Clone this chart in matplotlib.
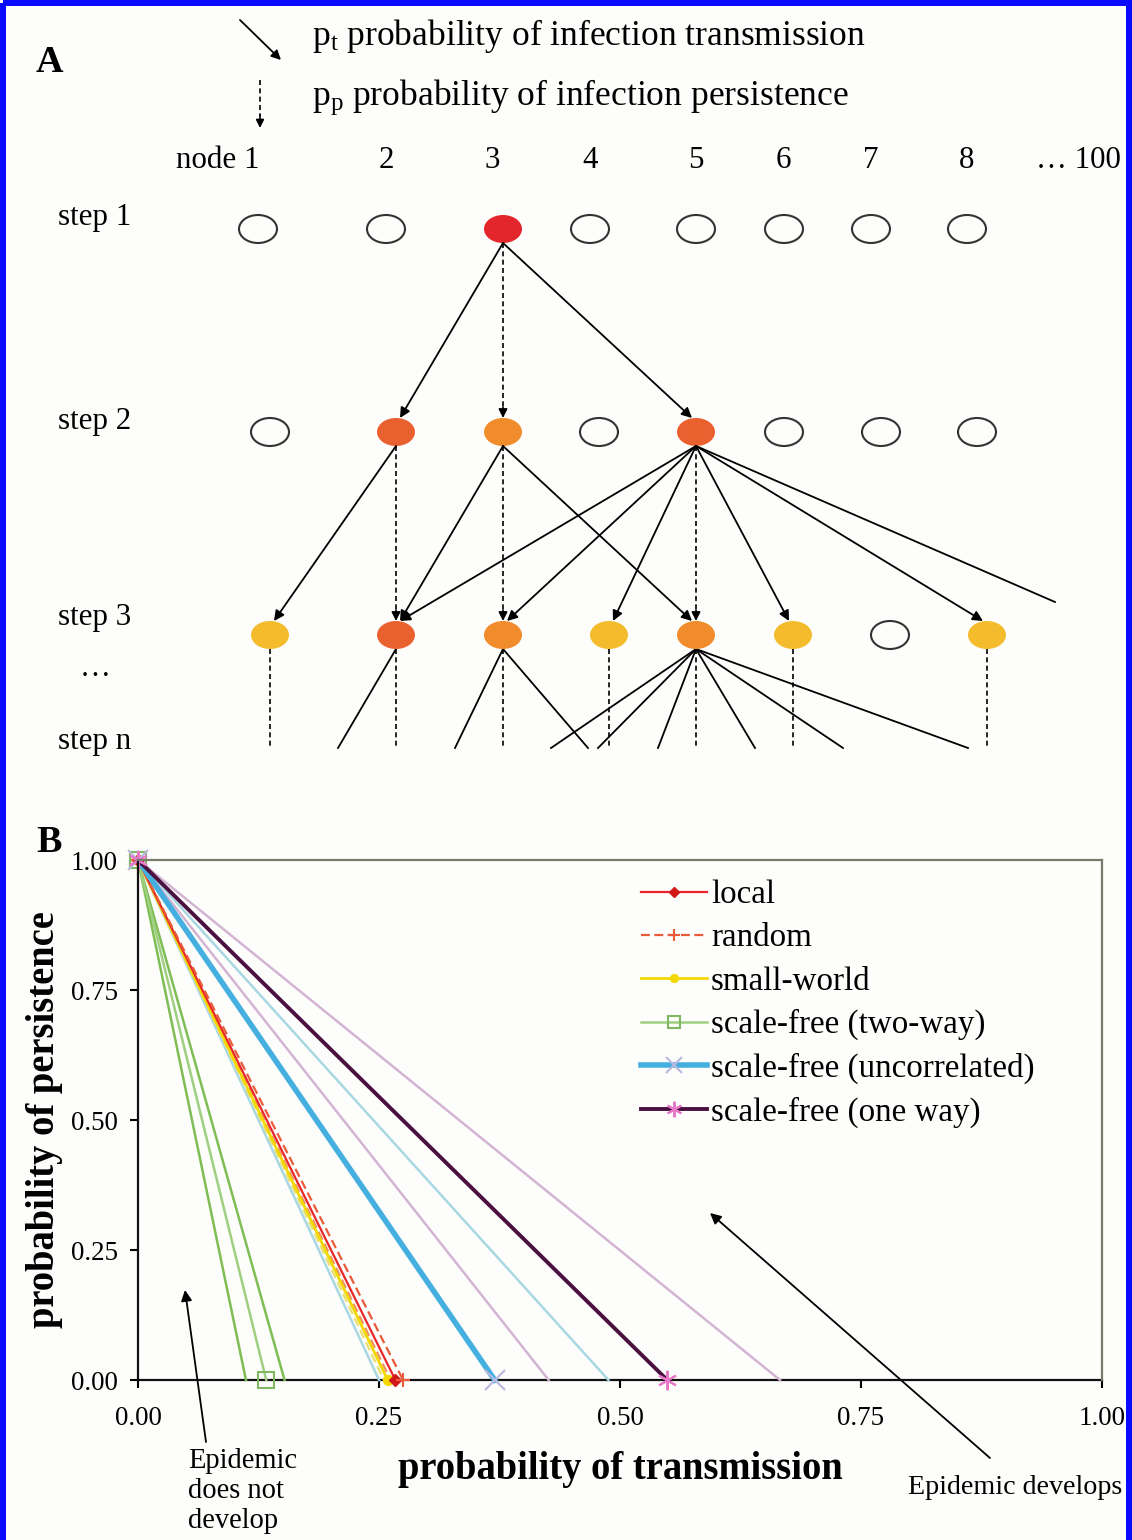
import matplotlib
matplotlib.use('Agg')
import matplotlib.pyplot as plt
from matplotlib.patches import Ellipse, Rectangle

plt.rcParams['font.family'] = ['Liberation Serif', 'DejaVu Serif']
plt.rcParams['mathtext.fontset'] = 'custom'
plt.rcParams['mathtext.rm'] = 'Liberation Serif'
plt.rcParams['mathtext.it'] = 'Liberation Serif:italic'

W, H = 1132, 1540
PT = 0.72  # points per pixel at dpi 100

# ---------------- Panel A data (diagram layout) ----------------
node_labels = ["node 1", "2", "3", "4", "5", "6", "7", "8", "\u2026 100"]
node_label_x = [218, 386, 492, 590, 696, 783, 871, 967, 1078]
step_labels = ["step 1", "step 2", "step 3", "\u2026", "step n"]
step_label_y = [218, 422, 617, 668, 742]
row_y = [229, 432, 635]
row_x = [[258, 386, 503, 590, 696, 784, 871, 967],
         [270, 396, 503, 599, 696, 784, 881, 977],
         [270, 396, 503, 609, 696, 793, 890, 987]]
RED, ORED, ORG, YEL = '#e3262b', '#ea6130', '#f08c2c', '#f4bc2c'
row_col = [[None, None, RED, None, None, None, None, None],
           [None, ORED, ORG, None, ORED, None, None, None],
           [YEL, ORED, ORG, YEL, ORG, YEL, None, YEL]]
# transmissions (from index in row r -> index in row r+1)
trans = [[(2, 1), (2, 4)],
         [(1, 0), (2, 1), (2, 4), (4, 1), (4, 2), (4, 3), (4, 5), (4, 7)]]
persist = [[2], [1, 2, 4]]
loose_end = (4, 1055, 602)
# last step: lines to step n
stepn_y = 748
stepn_trans = [(1, 338), (2, 455), (2, 588), (4, 551), (4, 598), (4, 658),
               (4, 755), (4, 843), (4, 968)]
stepn_persist = [0, 1, 2, 3, 4, 5, 7]

# ---------------- Panel B data ----------------
ticks = [0.0, 0.25, 0.50, 0.75, 1.00]
tick_labels = ["0.00", "0.25", "0.50", "0.75", "1.00"]
# x-intercepts (probability of transmission at persistence 0)
local_main = 0.267
random_main = 0.275
random_extra = [0.262]
smallworld_main = 0.259
smallworld_extra = [0.255]
twoway_main = 0.133
twoway_extra = [0.112, 0.152]
uncorr_main = 0.370
uncorr_extra = [0.250, 0.488]
oneway_main = 0.549
oneway_extra = [0.426, 0.666]

fig = plt.figure(figsize=(W / 100, H / 100), dpi=100, facecolor='#fdfdfb')
ov = fig.add_axes([0, 0, 1, 1])
ov.set_xlim(0, W)
ov.set_ylim(H, 0)
ov.axis('off')

# blue frame
ov.add_patch(Rectangle((3, 3), W - 6, H + 20, fill=False, edgecolor='#0a0aff',
                       lw=6 * PT, clip_on=False))

fsA = 31 * PT
fsKey = 35.5 * PT
ov.text(36, 62, "A", fontsize=38 * PT, fontweight='bold', va='center', ha='left')
ov.text(36, 843, "B", fontsize=38 * PT, fontweight='bold', va='center', ha='left')

# key
ov.annotate('', xy=(281, 60), xytext=(240, 20),
            arrowprops=dict(arrowstyle='-|>', color='k', lw=1.3, mutation_scale=14,
                            shrinkA=0, shrinkB=0))
ov.plot([260, 260], [80, 116], ls=(0, (3, 2)), color='k', lw=1.2)
ov.annotate('', xy=(260, 128), xytext=(260, 115),
            arrowprops=dict(arrowstyle='-|>', color='k', lw=1.2, mutation_scale=12,
                            shrinkA=0, shrinkB=0))
ov.text(312, 45, r"p$_{\mathrm{t}}$ probability of infection transmission",
        fontsize=fsKey, va='baseline', ha='left')
ov.text(312, 105, r"p$_{\mathrm{p}}$ probability of infection persistence",
        fontsize=fsKey, va='baseline', ha='left')

for lab, x in zip(node_labels, node_label_x):
    ov.text(x, 160, lab, fontsize=fsA, va='center', ha='center')
for lab, y in zip(step_labels, step_label_y):
    ov.text(58 if lab != "\u2026" else 80, y, lab, fontsize=fsA, va='center', ha='left')

EW, EH = 38, 28
for r in range(3):
    for x, c in zip(row_x[r], row_col[r]):
        if c is None:
            ov.add_patch(Ellipse((x, row_y[r]), EW, EH, facecolor='none',
                                 edgecolor='#333333', lw=1.5, zorder=3))
        else:
            ov.add_patch(Ellipse((x, row_y[r]), EW, EH, facecolor=c,
                                 edgecolor='none', zorder=3))

def arrow(x0, y0, x1, y1, dashed=False):
    if dashed:
        ov.plot([x0, x1], [y0, y1 - 10], ls=(0, (3, 2)), color='k', lw=1.2)
        ov.annotate('', xy=(x1, y1), xytext=(x1, y1 - 11),
                    arrowprops=dict(arrowstyle='-|>', color='k', lw=1.2,
                                    mutation_scale=13, shrinkA=0, shrinkB=0))
    else:
        ov.annotate('', xy=(x1, y1), xytext=(x0, y0),
                    arrowprops=dict(arrowstyle='-|>', color='k', lw=1.3,
                                    mutation_scale=15, shrinkA=0, shrinkB=0))

for r in range(2):
    for a, b in trans[r]:
        arrow(row_x[r][a], row_y[r] + 14, row_x[r + 1][b] + (4 if b < a else -4 if b > a else 0),
              row_y[r + 1] - 14)
    for a in persist[r]:
        arrow(row_x[r][a], row_y[r] + 14, row_x[r + 1][a], row_y[r + 1] - 14, dashed=True)
a, ex, ey = loose_end
ov.plot([row_x[1][a], ex], [row_y[1] + 14, ey], color='k', lw=1.3)
for a, ex in stepn_trans:
    ov.plot([row_x[2][a], ex], [row_y[2] + 14, stepn_y], color='k', lw=1.3)
for a in stepn_persist:
    x = row_x[2][a]
    ov.plot([x, x], [row_y[2] + 14, stepn_y], ls=(0, (3, 2)), color='k', lw=1.2)

# ---------------- Panel B ----------------
axB = fig.add_axes([138 / W, 1 - 1380 / H, 964 / W, 520 / H])
axB.set_facecolor('none')
axB.set_xlim(0, 1)
axB.set_ylim(0, 1)

def seg(x_int, **kw):
    return axB.plot([0.0, x_int], [1.0, 0.0], clip_on=False, **kw)

# bounds / extra lines
for xi in twoway_extra:
    seg(xi, color='#7fbd55', lw=1.8)
for xi in uncorr_extra:
    seg(xi, color='#a9d8e2', lw=1.8)
for xi in oneway_extra:
    seg(xi, color='#d3b5d3', lw=1.8)
for xi in smallworld_extra:
    seg(xi, color='#e8e070', lw=1.6, ls=(0, (4, 2)))
for xi in random_extra:
    seg(xi, color='#f09060', lw=1.6, ls=(0, (4, 2)))

seg(twoway_main, color='#9fcf80', lw=1.8, marker='s', ms=11, mfc='none',
    mec='#7fb860', mew=1.5, label='scale-free (two-way)')
seg(smallworld_main, color='#f2d800', lw=2, marker='o', ms=7, mec='#f2d800',
    label='small-world')
seg(local_main, color='#e8262a', lw=1.6, marker='D', ms=6, mec='#d01818', mfc='#d01818',
    label='local')
seg(random_main, color='#e85a3a', lw=1.6, ls=(0, (4, 2)), marker='+', ms=10, mew=1.5,
    label='random')
seg(uncorr_main, color='#45b0e0', lw=4, marker='x', ms=14, mec='#b8b8e0', mew=1.5,
    label='scale-free (uncorrelated)')
seg(oneway_main, color='#4a1040', lw=2.8, marker=(6, 2, 0), ms=14, mec='#e878c8', mew=1.5,
    label='scale-free (one way)')

h, l = axB.get_legend_handles_labels()
order = ['local', 'random', 'small-world', 'scale-free (two-way)',
         'scale-free (uncorrelated)', 'scale-free (one way)']
hh = [h[l.index(o)] for o in order]
axB.legend(hh, order, loc='upper left', bbox_to_anchor=(0.508, 0.987), frameon=False,
           fontsize=33 * PT, handlelength=2.0, handletextpad=0.12, labelspacing=0.38,
           borderaxespad=0, markerscale=0.8)

axB.set_xticks(ticks)
axB.set_xticklabels(tick_labels)
axB.set_yticks(ticks)
axB.set_yticklabels(tick_labels)
axB.tick_params(direction='out', length=8 * PT, width=1.5, labelsize=27 * PT)
axB.tick_params(axis='x', pad=13)
axB.tick_params(axis='y', pad=9)
for s in ['left', 'bottom']:
    axB.spines[s].set_linewidth(1.6)
    axB.spines[s].set_color('#111111')
for s in ['top', 'right']:
    axB.spines[s].set_linewidth(1.6)
    axB.spines[s].set_color('#7a7a6a')
axB.spines['bottom'].set_zorder(0.5)

axB.set_xlabel("probability of transmission", fontsize=38.5 * PT, fontweight='bold')
axB.xaxis.set_label_coords(0.5, (1380 - 1470) / 520)
axB.xaxis.label.set_va('center')
axB.set_ylabel("probability of persistence", fontsize=38.5 * PT, fontweight='bold')
axB.yaxis.set_label_coords((45 - 138) / 964, 0.5)
axB.yaxis.label.set_va('center')

# annotations
ov.annotate('', xy=(185, 1290), xytext=(206, 1442),
            arrowprops=dict(arrowstyle='-|>', color='k', lw=1.3, mutation_scale=16,
                            shrinkA=0, shrinkB=0))
ov.text(188, 1491, "Epidemic\ndoes not\ndevelop", fontsize=28.5 * PT, va='center',
        ha='left', linespacing=1.18)
ov.annotate('', xy=(710, 1213), xytext=(990, 1458),
            arrowprops=dict(arrowstyle='-|>', color='k', lw=1.3, mutation_scale=16,
                            shrinkA=0, shrinkB=0))
ov.text(1015, 1487, "Epidemic develops", fontsize=28 * PT, va='center', ha='center')

fig.savefig('out.png', dpi=100, facecolor=fig.get_facecolor())
